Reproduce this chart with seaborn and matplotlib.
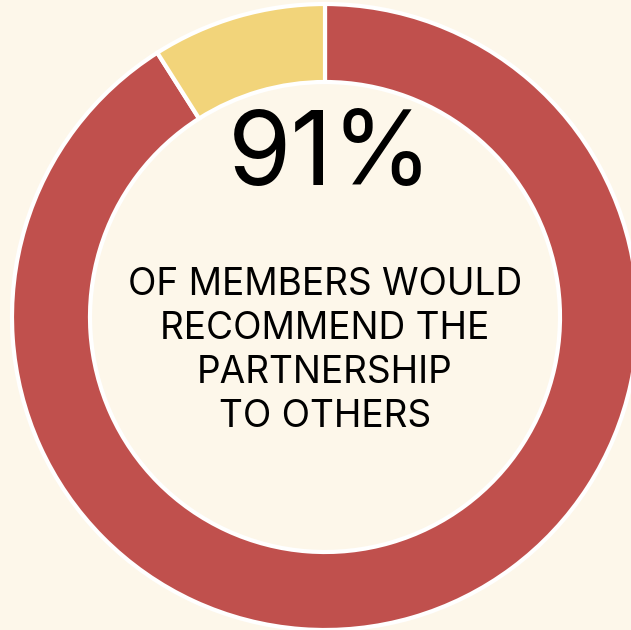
import matplotlib
matplotlib.use("Agg")
import matplotlib.pyplot as plt
import seaborn as sns

labels = ["Would recommend", "Would not"]
values = [91, 9]
colors = ["#C0504D", "#F2D47A"]
big_label = "91%"
caption = "OF MEMBERS WOULD\nRECOMMEND THE\nPARTNERSHIP\nTO OTHERS"

sns.set_style("white")
plt.rcParams['font.family'] = ['Inter', 'DejaVu Sans']
bg = "#FDF7EA"

W, H = 631, 630
fig = plt.figure(figsize=(W / 100, H / 100), dpi=100, facecolor=bg)
ax = fig.add_axes([0, 0, 1, 1])
ax.set_facecolor(bg)
ax.pie(values, colors=colors, startangle=90, counterclock=False,
       center=(325, H - 317), radius=313,
       wedgeprops=dict(width=78, edgecolor="white", linewidth=3))
ax.set_xlim(0, W)
ax.set_ylim(0, H)
ax.set_aspect('auto')
ax.axis('off')

ax.text(330, H - 158, big_label, ha='center', va='center', fontsize=73.5, color='black')
ax.text(325, H - 351, caption, ha='center', va='center', fontsize=26.7,
        color='black', linespacing=1.29)

fig.savefig("out.png", dpi=100, facecolor=bg)
